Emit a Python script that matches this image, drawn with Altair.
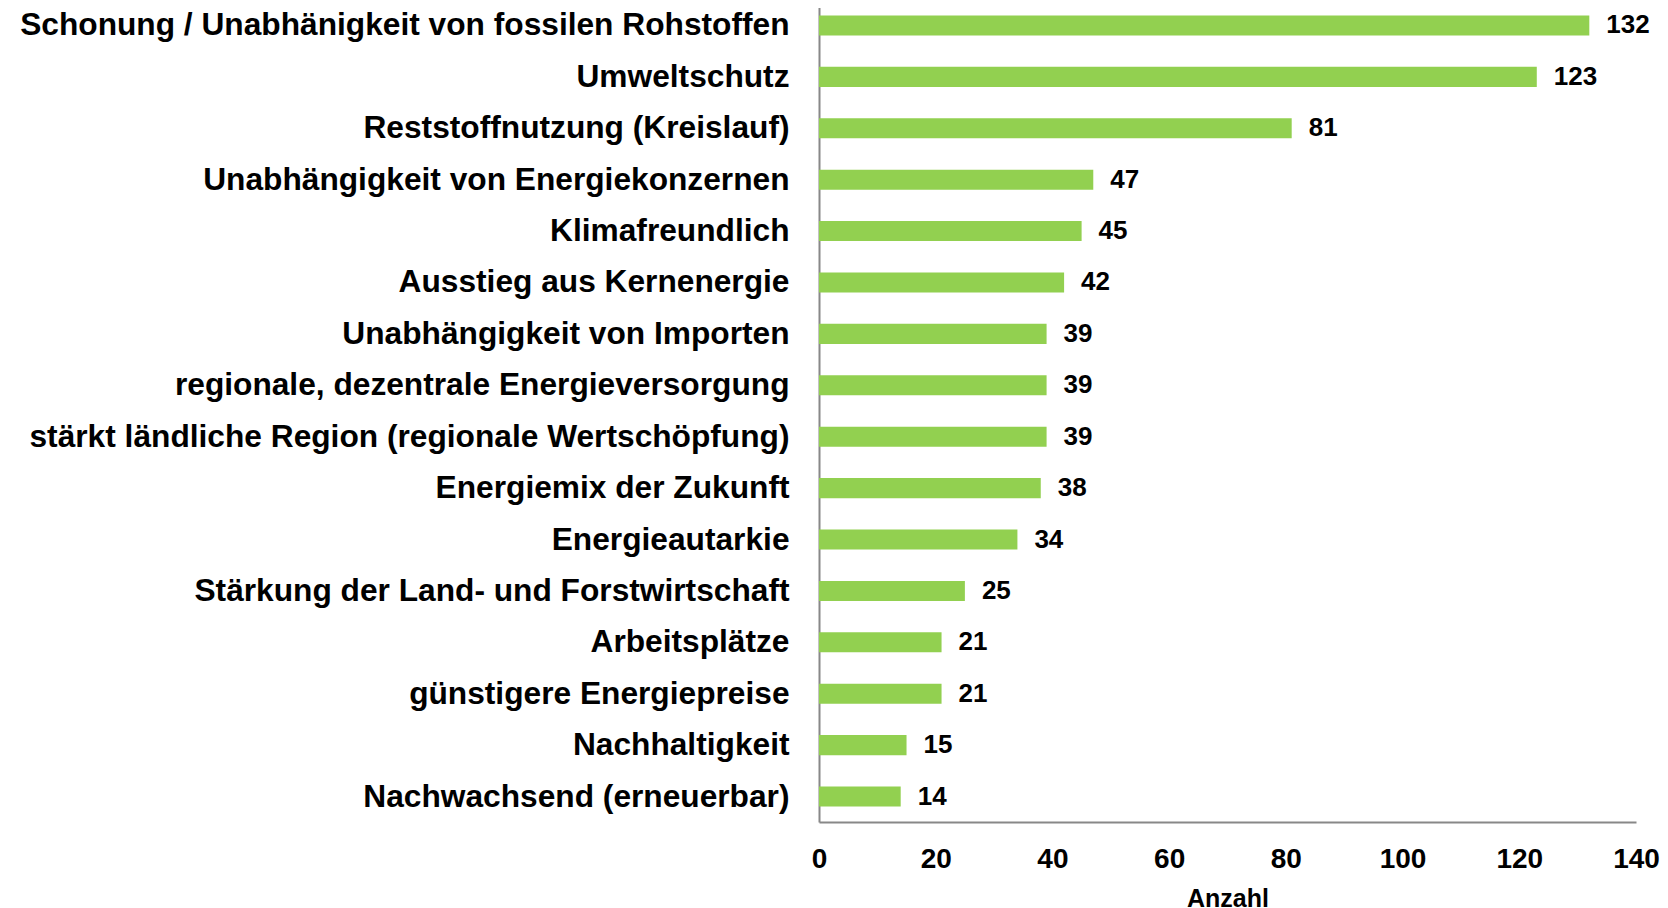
import altair as alt
import pandas as pd

categories = [
    "Schonung / Unabhänigkeit von fossilen Rohstoffen",
    "Umweltschutz",
    "Reststoffnutzung (Kreislauf)",
    "Unabhängigkeit von Energiekonzernen",
    "Klimafreundlich",
    "Ausstieg aus Kernenergie",
    "Unabhängigkeit von Importen",
    "regionale, dezentrale Energieversorgung",
    "stärkt ländliche Region (regionale Wertschöpfung)",
    "Energiemix der Zukunft",
    "Energieautarkie",
    "Stärkung der Land- und Forstwirtschaft",
    "Arbeitsplätze",
    "günstigere Energiepreise",
    "Nachhaltigkeit",
    "Nachwachsend (erneuerbar)",
]
values = [132, 123, 81, 47, 45, 42, 39, 39, 39, 38, 34, 25, 21, 21, 15, 14]
x_ticks = [0, 20, 40, 60, 80, 100, 120, 140]

df = pd.DataFrame({"Kategorie": categories, "Anzahl": values})

FONT = "Liberation Sans"

y_enc = alt.Y(
    "Kategorie:N",
    sort=categories,
    scale=alt.Scale(range=[-8, 814], paddingInner=0.61, paddingOuter=0.3),
    axis=alt.Axis(
        title=None,
        ticks=False,
        grid=False,
        domainColor="#888888",
        domainWidth=2,
        labelFont=FONT,
        labelFontSize=31.7,
        labelFontWeight="bold",
        labelColor="#000000",
        labelPadding=30,
        labelLimit=0,
    ),
)

x_enc = alt.X(
    "Anzahl:Q",
    scale=alt.Scale(domain=[0, 140], nice=False),
    axis=alt.Axis(
        values=x_ticks,
        title="Anzahl",
        grid=False,
        ticks=False,
        labelFlush=False,
        domainColor="#888888",
        domainWidth=2,
        labelFont=FONT,
        labelFontSize=28,
        labelFontWeight="bold",
        labelColor="#000000",
        labelPadding=23,
        titleFont=FONT,
        titleFontSize=25,
        titleFontWeight="bold",
        titleColor="#000000",
        titlePadding=13,
    ),
)

bars = alt.Chart(df).mark_bar(color="#92D050").encode(y=y_enc, x=x_enc)

labels = alt.Chart(df).mark_text(
    align="left",
    baseline="middle",
    dx=17,
    font=FONT,
    fontSize=26,
    fontWeight="bold",
    color="#000000",
).encode(y=alt.Y("Kategorie:N", sort=categories), x="Anzahl:Q", text="Anzahl:Q")

chart = (
    alt.layer(bars, labels)
    .properties(
        width=817,
        height=814,
        background="#ffffff",
        autosize=alt.AutoSizeParams(type="none"),
        padding={"left": 811, "top": 0, "right": 24, "bottom": 86},
    )
    .configure_view(strokeWidth=0, stroke="transparent")
)

chart.save("out.html", embed_options={"renderer": "svg", "actions": False})
